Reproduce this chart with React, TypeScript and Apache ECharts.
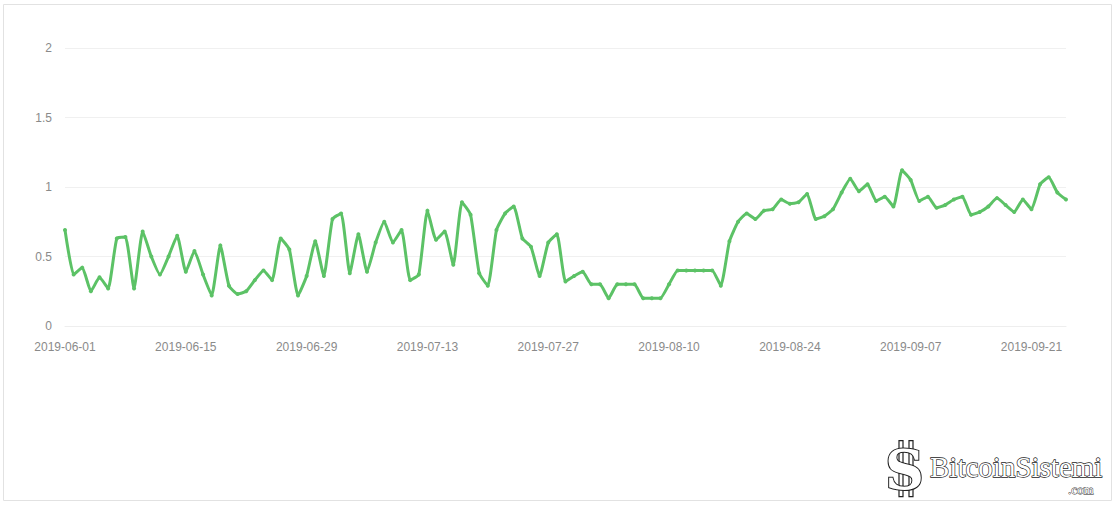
import React, { useEffect, useRef } from "react";
import * as echarts from "echarts";

const startDate = "2019-06-01";
const dayCount = 117;

const values: number[] = [
  0.69, 0.37, 0.42, 0.25, 0.35, 0.27, 0.63, 0.64, 0.27, 0.68,
  0.50, 0.37, 0.50, 0.65, 0.39, 0.54, 0.37, 0.22, 0.58, 0.29,
  0.23, 0.25, 0.33, 0.40, 0.33, 0.63, 0.55, 0.22, 0.36, 0.61,
  0.36, 0.77, 0.81, 0.38, 0.66, 0.39, 0.60, 0.75, 0.60, 0.69,
  0.33, 0.37, 0.83, 0.62, 0.68, 0.44, 0.89, 0.80, 0.38, 0.29,
  0.69, 0.81, 0.86, 0.63, 0.57, 0.36, 0.60, 0.66, 0.32, 0.36,
  0.39, 0.30, 0.30, 0.20, 0.30, 0.30, 0.30, 0.20, 0.20, 0.20,
  0.30, 0.40, 0.40, 0.40, 0.40, 0.40, 0.29, 0.61, 0.75, 0.81,
  0.77, 0.83, 0.84, 0.91, 0.88, 0.89, 0.95, 0.77, 0.79, 0.84,
  0.96, 1.06, 0.97, 1.02, 0.90, 0.93, 0.86, 1.12, 1.05, 0.90,
  0.93, 0.85, 0.87, 0.91, 0.93, 0.80, 0.82, 0.86, 0.92, 0.87,
  0.82, 0.91, 0.84, 1.02, 1.07, 0.96, 0.91,
];

const yTicks = [0, 0.5, 1, 1.5, 2];

function buildDates(start: string, n: number): string[] {
  const out: string[] = [];
  const d = new Date(start + "T00:00:00Z");
  for (let i = 0; i < n; i++) {
    const t = new Date(d.getTime() + i * 86400000);
    out.push(t.toISOString().slice(0, 10));
  }
  return out;
}

const dates = buildDates(startDate, dayCount);

export default function App() {
  const ref = useRef<HTMLDivElement>(null);
  useEffect(() => {
    document.body.style.margin = "0";
    if (!ref.current) return;
    const chart = echarts.init(ref.current, undefined, { renderer: "svg" });
    chart.setOption({
      animation: false,
      backgroundColor: "#ffffff",
      grid: { left: 65, right: 50, top: 48, bottom: 181 },
      xAxis: {
        type: "category",
        data: dates,
        boundaryGap: false,
        axisLine: { show: true, lineStyle: { color: "#eeeeee" } },
        axisTick: { show: false },
        axisLabel: {
          interval: 13,
          color: "#8a8a8a",
          fontSize: 12,
          margin: 15,
          fontFamily: "Arial, Liberation Sans, sans-serif",
        },
        splitLine: { show: false },
      },
      yAxis: {
        type: "value",
        min: yTicks[0],
        max: yTicks[yTicks.length - 1],
        interval: 0.5,
        axisLine: { show: false },
        axisTick: { show: false },
        axisLabel: {
          color: "#8a8a8a",
          fontSize: 12,
          margin: 13,
          fontFamily: "Arial, Liberation Sans, sans-serif",
        },
        splitLine: { show: true, lineStyle: { color: "#f0f0f0" } },
      },
      series: [
        {
          type: "line",
          data: values,
          smooth: 0.15,
          symbol: "circle",
          symbolSize: 4,
          showSymbol: true,
          itemStyle: { color: "#5cc266" },
          lineStyle: { color: "#5cc266", width: 3 },
        },
      ],
      graphic: [
        {
          type: "rect",
          shape: { x: 3.5, y: 4.5, width: 1108, height: 496 },
          style: { fill: "none", stroke: "#e2e2e2", lineWidth: 1 },
          silent: true,
        },
        {
          type: "group",
          left: 884,
          top: 440,
          children: [
            {
              type: "rect",
              shape: { x: 14, y: 0, width: 4, height: 56 },
              style: { fill: "#ffffff", stroke: "#222222", lineWidth: 1.2 },
            },
            {
              type: "rect",
              shape: { x: 24, y: 0, width: 4, height: 56 },
              style: { fill: "#ffffff", stroke: "#222222", lineWidth: 1.2 },
            },
            {
              type: "text",
              x: 0,
              y: 2,
              style: {
                text: "S",
                font: "bold 54px 'DejaVu Serif', serif",
                fill: "#ffffff",
                stroke: "#222222",
                lineWidth: 2,
              },
            },
            {
              type: "text",
              x: 45,
              y: 12,
              style: {
                text: "BitcoinSistemi",
                font: "29px 'Liberation Serif', serif",
                fill: "#ffffff",
                stroke: "#222222",
                lineWidth: 1.3,
              },
            },
            {
              type: "text",
              x: 183,
              y: 42,
              style: {
                text: ".com",
                font: "13px 'Liberation Serif', serif",
                fill: "#ffffff",
                stroke: "#222222",
                lineWidth: 0.8,
              },
            },
          ],
        },
      ],
    });
    return () => chart.dispose();
  }, []);
  return <div ref={ref} style={{ width: 1116, height: 507 }} />;
}
